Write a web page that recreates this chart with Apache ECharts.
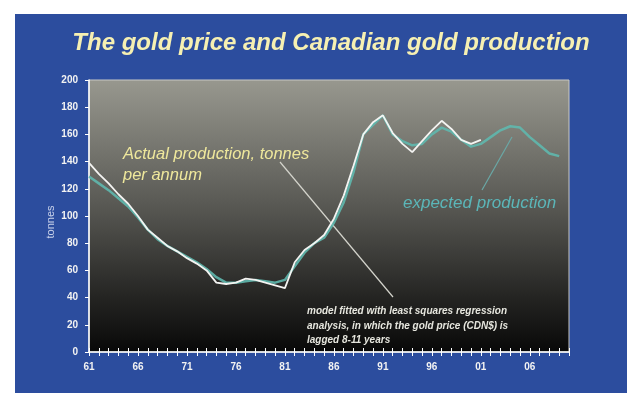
<!DOCTYPE html>
<html>
<head>
<meta charset="utf-8">
<script src="https://cdn.jsdelivr.net/npm/echarts@6/dist/echarts.min.js"></script>
<style>
  html, body { margin: 0; padding: 0; background: #ffffff; width: 627px; height: 393px; overflow: hidden; }
  #chart { position: absolute; left: 15px; top: 14px; width: 612px; height: 379px; }
</style>
</head>
<body>
<div id="chart"></div>
<script>
// Years 1961-2010, shown as two-digit labels
const years = ['61','62','63','64','65','66','67','68','69','70',
               '71','72','73','74','75','76','77','78','79','80',
               '81','82','83','84','85','86','87','88','89','90',
               '91','92','93','94','95','96','97','98','99','00',
               '01','02','03','04','05','06','07','08','09','10'];

// Actual Canadian gold production, tonnes per annum (1961-2001)
const actualProduction = [139,131,124,116,109,100,90,84,78,74,
                          69,65,60,51,50,51,54,53,51,49,
                          47,66,75,80,86,98,115,137,160,169,
                          174,161,153,147,155,163,170,164,156,153,
                          156];

// Model output: expected production from lagged gold price (1961-2009)
const expectedProduction = [129,124,119,113,107,99,90,83,78,74,
                            70,66,61,55,51,51,52,53,52,51,
                            53,63,73,80,84,95,110,132,160,167,
                            174,160,155,152,153,160,165,162,156,151,
                            153,158,163,166,165,158,152,146,144];

const yTicks = { min: 0, max: 200, step: 20 };

const chart = echarts.init(document.getElementById('chart'));

const labelFont = { color: '#f2f2f2', fontSize: 10, fontWeight: 'bold', fontFamily: 'Liberation Sans, Arial, sans-serif' };

chart.setOption({
  backgroundColor: '#2c4d9e',
  animation: false,
  grid: {
    left: 74, right: 58, top: 66, bottom: 41,
    show: true,
    borderColor: '#c8c8c4',
    borderWidth: 1,
    backgroundColor: {
      type: 'linear', x: 0, y: 0, x2: 0, y2: 1,
      colorStops: [
        { offset: 0, color: '#98988f' },
        { offset: 0.45, color: '#5a5a55' },
        { offset: 0.8, color: '#242422' },
        { offset: 1, color: '#080808' }
      ]
    }
  },
  xAxis: [{
    type: 'category',
    data: years,
    boundaryGap: false,
    axisLine: { lineStyle: { color: '#ffffff', width: 1.5 } },
    axisTick: { interval: 0, length: 4, lineStyle: { color: '#ffffff' } },
    axisLabel: Object.assign({ interval: 4, margin: 10 }, labelFont),
    splitLine: { show: false }
  }, {
    type: 'category',
    data: years,
    boundaryGap: false,
    position: 'bottom',
    axisLine: { show: false },
    axisTick: { interval: 0, inside: true, length: 4, lineStyle: { color: '#ffffff' } },
    axisLabel: { show: false },
    splitLine: { show: false }
  }],
  yAxis: {
    type: 'value',
    min: yTicks.min, max: yTicks.max, interval: yTicks.step,
    axisLine: { show: true, lineStyle: { color: '#ffffff', width: 1.5 } },
    axisTick: { show: true, length: 4, lineStyle: { color: '#ffffff' } },
    axisLabel: Object.assign({ margin: 11 }, labelFont),
    splitLine: { show: false }
  },
  series: [{
    name: 'expected production',
    type: 'line',
    data: expectedProduction,
    showSymbol: false,
    lineStyle: { color: '#5fb8ae', width: 2.5, opacity: 0.9 },
    z: 2
  }, {
    name: 'Actual production',
    type: 'line',
    data: actualProduction,
    showSymbol: false,
    lineStyle: { color: '#f4f4f2', width: 1.8 },
    z: 3
  }],
  graphic: [
    {
      type: 'text', x: 316, y: 29,
      style: {
        text: 'The gold price and Canadian gold production',
        fill: '#f6f0b2', font: 'italic bold 24px "Liberation Sans", Arial, sans-serif',
        textAlign: 'center', textVerticalAlign: 'middle'
      }
    },
    {
      // y-axis title, rotated to read bottom-to-top
      type: 'text', x: 36, y: 208, rotation: Math.PI / 2,
      style: {
        text: 'tonnes',
        fill: '#c9d2ea', font: '11px "Liberation Sans", Arial, sans-serif',
        textAlign: 'center', textVerticalAlign: 'middle'
      }
    },
    {
      type: 'text', x: 108, y: 130,
      style: {
        text: 'Actual production, tonnes\nper annum',
        fill: '#efe89c', font: 'italic 16.5px "Liberation Sans", Arial, sans-serif',
        lineHeight: 21
      }
    },
    {
      type: 'line',
      shape: { x1: 265, y1: 148, x2: 378, y2: 283 },
      style: { stroke: '#d4d4cc', lineWidth: 1.2 }
    },
    {
      type: 'text', x: 292, y: 290,
      style: {
        text: 'model fitted with least squares regression\nanalysis, in which the gold price (CDN$) is\nlagged 8-11 years',
        fill: '#e6e6de', font: 'italic bold 10px "Liberation Sans", Arial, sans-serif',
        lineHeight: 14.5
      }
    },
    {
      type: 'text', x: 388, y: 181,
      style: {
        text: 'expected production',
        fill: '#5bb6b8', font: 'italic 17px "Liberation Sans", Arial, sans-serif'
      }
    },
    {
      type: 'line',
      shape: { x1: 467, y1: 176, x2: 497, y2: 123 },
      style: { stroke: '#6aa8a6', lineWidth: 1.2 }
    }
  ]
});
</script>
</body>
</html>
